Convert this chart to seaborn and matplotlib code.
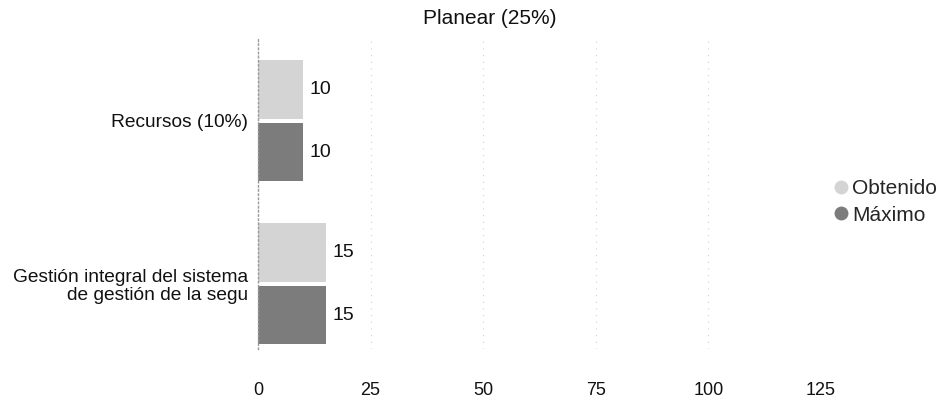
import matplotlib
matplotlib.use("Agg")
import matplotlib.pyplot as plt
import seaborn as sns
import pandas as pd
from matplotlib.lines import Line2D

categories = ["Recursos (10%)", "Gestión integral del sistema\nde gestión de la segu"]
series_names = ["Obtenido", "Máximo"]
obtenido = [10, 15]
maximo = [10, 15]
x_ticks = [0, 25, 50, 75, 100, 125]
title = "Planear (25%)"

df = pd.DataFrame({
    "categoria": categories * 2,
    "serie": [series_names[0]] * len(categories) + [series_names[1]] * len(categories),
    "valor": obtenido + maximo,
})

sns.set_theme(style="white")
plt.rcParams["font.family"] = ["Liberation Sans", "DejaVu Sans"]

colors = {"Obtenido": "#d4d4d4", "Máximo": "#7c7c7c"}

fig = plt.figure(figsize=(9.46, 4.04), dpi=100)
ax = fig.add_axes([258 / 946, 1 - 349 / 404, (821 - 258) / 946, (349 - 39.5) / 404])

sns.barplot(data=df, y="categoria", x="valor", hue="serie", orient="h",
            palette=colors, width=0.77, gap=0.07, ax=ax, legend=False,
            edgecolor="none")

for cont in ax.containers:
    ax.bar_label(cont, labels=[f"{v:g}" for v in cont.datavalues],
                 padding=5, fontsize=14, color="#111111")

ax.set_xlim(0, 125)
ax.set_ylim(1.4, -0.5)
ax.set_xticks(x_ticks)
ax.set_xticklabels([str(t) for t in x_ticks], fontsize=13, color="#111111")
ax.tick_params(axis="x", length=0, pad=24)
ax.tick_params(axis="y", length=0, pad=7, labelsize=13.8, labelcolor="#111111")
for lbl in ax.get_yticklabels():
    lbl.set_linespacing(1.1)
ax.set_xlabel("")
ax.set_ylabel("")
for sp in ["top", "right", "bottom"]:
    ax.spines[sp].set_visible(False)
ax.spines["left"].set_color("#999999")
ax.spines["left"].set_linestyle((0, (1, 2)))
ax.spines["left"].set_linewidth(1)
ax.xaxis.grid(True, color="#d0d0d0", linestyle=(0, (1, 5)), linewidth=0.8)
ax.set_axisbelow(True)

fig.text(490 / 946, 1 - 18 / 404, title, ha="center", va="center",
         fontsize=15, color="#111111")

handles = [Line2D([0], [0], marker="o", linestyle="none", markersize=10,
                  markerfacecolor=colors[s], markeredgecolor="none", label=s)
           for s in series_names]
fig.legend(handles=handles, loc="center left", bbox_to_anchor=(820 / 946, 1 - 202 / 404),
           frameon=False, fontsize=15, handletextpad=0.05, labelspacing=0.35,
           handlelength=1.0, borderpad=0)

fig.savefig("out.png", dpi=100)
